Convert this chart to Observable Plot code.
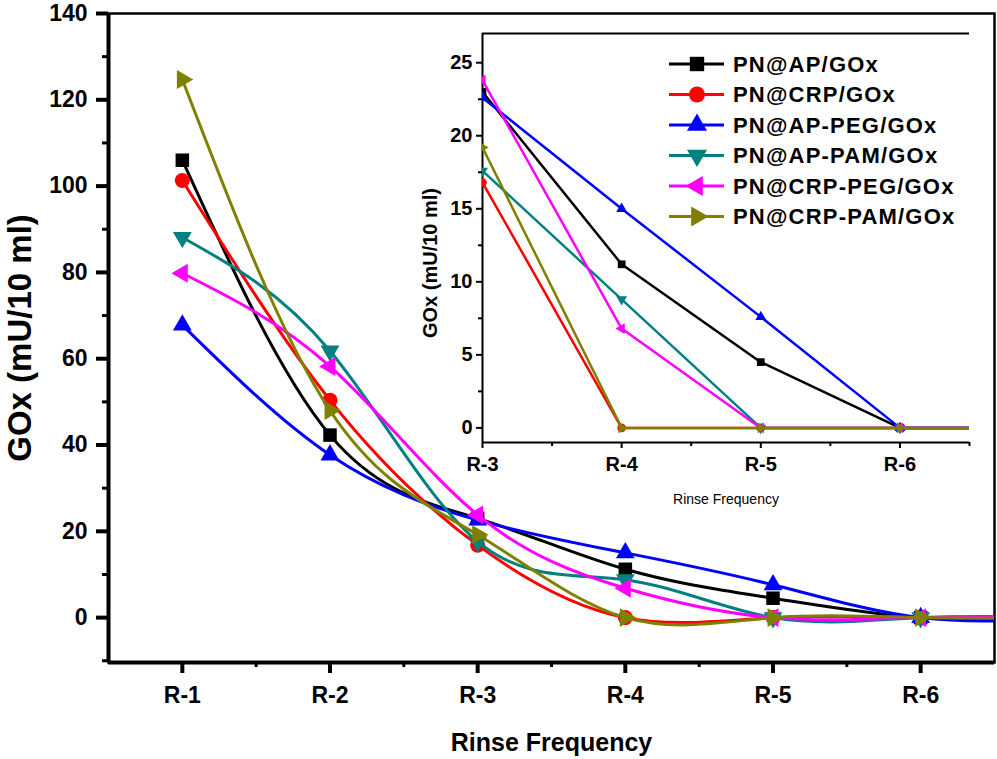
<!DOCTYPE html>
<html><head><meta charset="utf-8">
<script src="https://cdn.jsdelivr.net/npm/d3@7"></script>
<script src="https://cdn.jsdelivr.net/npm/@observablehq/plot@0.6"></script>
<style>
body{margin:0;background:#fff;}
#wrap{position:relative;width:997px;height:759px;overflow:hidden;background:#fff;}
#wrap svg{position:absolute;max-width:none;}
</style></head><body><div id="wrap"></div>
<script>
// ---- data ----
const categories = ["R-1","R-2","R-3","R-4","R-5","R-6","R-7"];
const tickLabels = ["R-1","R-2","R-3","R-4","R-5","R-6"];
const seriesNames = ["PN@AP/GOx","PN@CRP/GOx","PN@AP-PEG/GOx","PN@AP-PAM/GOx","PN@CRP-PEG/GOx","PN@CRP-PAM/GOx"];
const apGOx     = [106.0, 42.3, 23.0, 11.2, 4.5, 0, 0];
const crpGOx    = [101.3, 50.4, 16.8, 0, 0, 0, 0];
const apPegGOx  = [67.8, 37.7, 22.6, 15.0, 7.6, 0, 0];
const apPamGOx  = [88.1, 61.8, 17.6, 8.8, 0, 0, 0];
const crpPegGOx = [79.8, 58.2, 23.8, 6.8, 0, 0, 0];
const crpPamGOx = [124.7, 48.0, 19.2, 0, 0, 0, 0];
const mainYTicks = [0,20,40,60,80,100,120,140];
const insetYTicks = [0,5,10,15,20,25];
const insetFirst = 2; // inset starts at R-3

// ---- styles ----
const colors = ["#000000","#ff0000","#0000ff","#008080","#ff00ff","#808000"];
const shapes = ["square","circle","up","down","left","right"];
const allValues = [apGOx, crpGOx, apPegGOx, apPamGOx, crpPegGOx, crpPamGOx];

const sym = (kind) => ({draw(ctx, size){
  const r = Math.sqrt(size/Math.PI);
  if (kind === "square"){ const h = r*0.9; ctx.moveTo(-h,-h); ctx.lineTo(h,-h); ctx.lineTo(h,h); ctx.lineTo(-h,h); ctx.closePath(); return; }
  if (kind === "circle"){ ctx.moveTo(r,0); ctx.arc(0,0,r,0,2*Math.PI); return; }
  const a0 = {up:0, down:Math.PI, left:-Math.PI/2, right:Math.PI/2}[kind];
  const R = r*1.45;
  for (let k=0;k<3;k++){ const a=a0+k*2*Math.PI/3; const px=R*Math.sin(a), py=-R*Math.cos(a); if(k===0) ctx.moveTo(px,py); else ctx.lineTo(px,py); }
  ctx.closePath();
}});

const rows = seriesNames.map((name, s) => allValues[s].map((v, i) => ({cat: categories[i], x: i+1, y: v, series: name})));
const font = "Liberation Sans, Arial, Helvetica, sans-serif";

// ---- main chart ----
const mainMarks = [
  Plot.frame({stroke:"black", strokeWidth:2.5}),
  Plot.axisY({ticks: mainYTicks, tickSize:12, tickPadding:9, strokeWidth:4, fontSize:23, fontWeight:"bold", label:null}),
  Plot.axisY({ticks: d3.range(-10,141,20), tickSize:6, strokeWidth:3, tickFormat:()=>"", label:null}),
  Plot.axisX({ticks: tickLabels.map((d,i)=>i+1), tickFormat: d => tickLabels[d-1], tickSize:11, tickPadding:13, strokeWidth:4, fontSize:23, fontWeight:"bold", label:null}),
  Plot.axisX({ticks: tickLabels.map((d,i)=>i+1.5).slice(0,5), tickSize:5, strokeWidth:3, tickFormat:()=>"", label:null}),
  Plot.ruleX([0.5], {strokeWidth:4}),
  Plot.ruleY([-10.4], {strokeWidth:4})
];
rows.forEach((r, s) => {
  mainMarks.push(Plot.line(r, {x:"x", y:"y", stroke: colors[s], strokeWidth:3, curve:"natural", clip:true}));
  mainMarks.push(Plot.dot(r.slice(0,6), {x:"x", y:"y", r:7.5, symbol: sym(shapes[s]), fill: colors[s], stroke:"none"}));
});
mainMarks.push(Plot.text(["GOx (mU/10 ml)"], {text:d=>d, frameAnchor:"left", textAnchor:"middle", dx:-88, dy:0, rotate:-90, fontSize:33, fontWeight:"bold"}));
mainMarks.push(Plot.text(["Rinse Frequency"], {text:d=>d, frameAnchor:"bottom", textAnchor:"middle", dy:88, fontSize:25, fontWeight:"bold"}));

const main = Plot.plot({
  width:997, height:759,
  marginLeft:108, marginRight:3, marginTop:13, marginBottom:97,
  x:{domain:[0.5,6.5]}, y:{domain:[-10.4,140]},
  style:{fontFamily:font, background:"white", color:"black"},
  marks: mainMarks
});
main.style.left = "0px"; main.style.top = "0px";
document.getElementById("wrap").appendChild(main);

// ---- inset chart ----
const insetMarks = [
  Plot.ruleY([27], {strokeWidth:2}),
  Plot.axisY({ticks: insetYTicks, tickSize:6, tickPadding:4, strokeWidth:2, fontSize:20, fontWeight:"bold", label:null}),
  Plot.axisY({ticks: d3.range(2.5,25,5), tickSize:4, strokeWidth:2, tickFormat:()=>"", label:null}),
  Plot.axisX({ticks:[3,4,5,6], tickFormat: d => tickLabels[d-1], tickSize:6, tickPadding:8, strokeWidth:2, fontSize:20, fontWeight:"bold", label:null}),
  Plot.axisX({ticks:[3.5,4.5,5.5,6.5], tickSize:4, strokeWidth:2, tickFormat:()=>"", label:null}),
  Plot.ruleX([3], {strokeWidth:2}),
  Plot.ruleY([-1], {strokeWidth:2})
];
rows.forEach((r, s) => {
  const sub = r.slice(insetFirst);
  insetMarks.push(Plot.line(sub, {x:"x", y:"y", stroke: colors[s], strokeWidth:2.5, clip:true}));
  insetMarks.push(Plot.dot(sub.slice(0,4), {x:"x", y:"y", r:4.3, symbol: sym(shapes[s]), fill: colors[s], stroke:"none", clip:true}));
});
insetMarks.push(Plot.text(["GOx (mU/10 ml)"], {text:d=>d, frameAnchor:"left", textAnchor:"middle", dx:-52, dy:25, rotate:-90, fontSize:20, fontWeight:"bold"}));
insetMarks.push(Plot.text(["Rinse Frequency"], {text:d=>d, frameAnchor:"bottom", textAnchor:"middle", dy:61, fontSize:14}));

const inset = Plot.plot({
  width:580, height:530,
  marginLeft:82, marginRight:11, marginTop:33, marginBottom:88,
  x:{domain:[3,6.5]}, y:{domain:[-1,27]},
  style:{fontFamily:font, background:"transparent", color:"black"},
  marks: insetMarks
});
inset.style.left = "400px"; inset.style.top = "0px";
document.getElementById("wrap").appendChild(inset);

// legend inside the inset
const lg = d3.select(inset).append("g").attr("font-family", font).attr("text-anchor", "start");
seriesNames.forEach((name, i) => {
  const g = lg.append("g").attr("transform", `translate(0,${64 + i*30.5})`);
  g.append("line").attr("x1",269).attr("x2",324).attr("y1",0).attr("y2",0).attr("stroke",colors[i]).attr("stroke-width",3);
  g.append("path").attr("d", d3.symbol(sym(shapes[i]), Math.PI*8*8)()).attr("transform","translate(297,0)").attr("fill",colors[i]);
  g.append("text").attr("x",333).attr("dy","0.36em").attr("text-anchor","start").attr("font-size",22).attr("font-weight","bold").attr("letter-spacing","1.2px").text(name);
});
</script></body></html>
